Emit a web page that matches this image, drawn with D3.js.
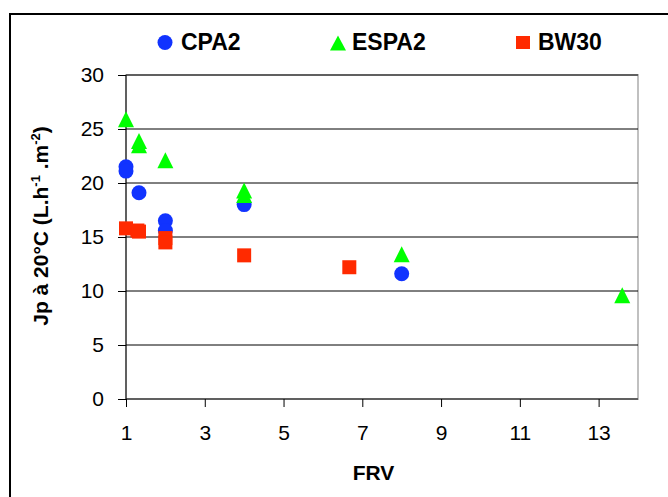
<!DOCTYPE html>
<html><head><meta charset="utf-8">
<script src="https://cdn.jsdelivr.net/npm/d3@7"></script>
<style>body{margin:0;background:#fff}svg{display:block}text{font-family:"Liberation Sans",Arial,sans-serif}</style>
</head><body><svg id="c" width="668" height="497"></svg>
<script>
const seriesNames = ["CPA2", "ESPA2", "BW30"];
const cpa2X = [1, 1, 1.33, 2, 2, 4, 8];
const cpa2Y = [21.5, 21.1, 19.1, 16.5, 15.6, 18.0, 11.6];
const espa2X = [1, 1.33, 1.33, 2, 4, 4, 8, 13.6];
const espa2Y = [25.9, 23.9, 23.5, 22.1, 19.3, 18.9, 13.4, 9.6];
const bw30X = [1, 1.29, 1.33, 2, 2, 4, 6.67];
const bw30Y = [15.8, 15.6, 15.5, 14.9, 14.5, 13.3, 12.2];
const xTicks = [1, 3, 5, 7, 9, 11, 13];
const yTicks = [0, 5, 10, 15, 20, 25, 30];
const colors = ["#1133ff", "#00ff00", "#ff2a00"];

const svg = d3.select("#c");
const L = 126, R = 638, T = 75, B = 399;
const x = d3.scaleLinear().domain([1, 14]).range([L, R]);
const y = d3.scaleLinear().domain([0, 30]).range([B, T]);

// outer frame
svg.append("rect").attr("x", 10).attr("y", 14).attr("width", 700).attr("height", 600)
  .attr("fill", "none").attr("stroke", "#000").attr("stroke-width", 2);

// plot area border
svg.append("rect").attr("x", L).attr("y", T).attr("width", R - L).attr("height", B - T)
  .attr("fill", "none").attr("stroke", "#c0c0c0").attr("stroke-width", 2);

// gridlines
svg.append("g").selectAll("line").data(yTicks.filter(d => d > 0)).join("line")
  .attr("x1", L).attr("x2", R).attr("y1", d => y(d)).attr("y2", d => y(d))
  .attr("stroke", "#000").attr("stroke-width", 1);

// axes
const gx = svg.append("g").attr("transform", `translate(0,${B})`)
  .call(d3.axisBottom(x).tickValues(xTicks).tickFormat(d3.format("d")).tickSize(8).tickPadding(18).tickSizeOuter(0));
const gy = svg.append("g").attr("transform", `translate(${L},0)`)
  .call(d3.axisLeft(y).tickValues(yTicks).tickFormat(d3.format("d")).tickSize(8).tickPadding(14).tickSizeOuter(0));
[gx, gy].forEach(g => {
  g.select(".domain").attr("stroke", "#000").attr("stroke-width", 1);
  g.selectAll(".tick line").attr("stroke", "#000").attr("stroke-width", 1);
  g.selectAll(".tick text").attr("font-size", 21).attr("fill", "#000")
    .attr("font-family", "'Liberation Sans', Arial, sans-serif");
});
gx.select(".domain").attr("d", `M${L},0H${R}`);
gy.select(".domain").attr("d", `M0,${T}V${B}`);

// markers
const tri = (cx, cy, w, h) => `M${cx},${cy - h / 2}L${cx + w / 2},${cy + h / 2}L${cx - w / 2},${cy + h / 2}Z`;
const cpa = d3.zip(cpa2X, cpa2Y), esp = d3.zip(espa2X, espa2Y), bw = d3.zip(bw30X, bw30Y);
svg.append("g").selectAll("circle").data(cpa).join("circle")
  .attr("cx", d => x(d[0])).attr("cy", d => y(d[1])).attr("r", 7.5).attr("fill", colors[0]);
svg.append("g").selectAll("path").data(esp).join("path")
  .attr("d", d => tri(x(d[0]), y(d[1]), 16, 16)).attr("fill", colors[1]);
svg.append("g").selectAll("rect").data(bw).join("rect")
  .attr("x", d => x(d[0]) - 7).attr("y", d => y(d[1]) - 7).attr("width", 14).attr("height", 14)
  .attr("fill", colors[2]);

// legend
const lg = svg.append("g");
lg.append("circle").attr("cx", 165).attr("cy", 42.5).attr("r", 7.5).attr("fill", colors[0]);
lg.append("path").attr("d", tri(338, 43, 16, 15)).attr("fill", colors[1]);
lg.append("rect").attr("x", 516).attr("y", 36).attr("width", 14).attr("height", 13).attr("fill", colors[2]);
const lx = [181, 352, 538];
seriesNames.forEach((n, i) => {
  lg.append("text").attr("x", lx[i]).attr("y", 50).attr("font-size", 23).attr("font-weight", "bold")
    .attr("fill", "#000").text(n);
});

// axis titles
svg.append("text").attr("x", 373.5).attr("y", 480).attr("text-anchor", "middle")
  .attr("font-size", 21).attr("font-weight", "bold").text("FRV");
const yt = svg.append("text").attr("transform", "translate(48,226) rotate(-90)")
  .attr("text-anchor", "middle").attr("font-size", 21).attr("font-weight", "bold");
yt.append("tspan").text("Jp à 20°C (L.h");
yt.append("tspan").attr("font-size", 13).attr("dy", -8).text("-1");
yt.append("tspan").attr("dy", 8).text(" .m");
yt.append("tspan").attr("font-size", 13).attr("dy", -8).text("-2");
yt.append("tspan").attr("dy", 8).text(")");
</script></body></html>
